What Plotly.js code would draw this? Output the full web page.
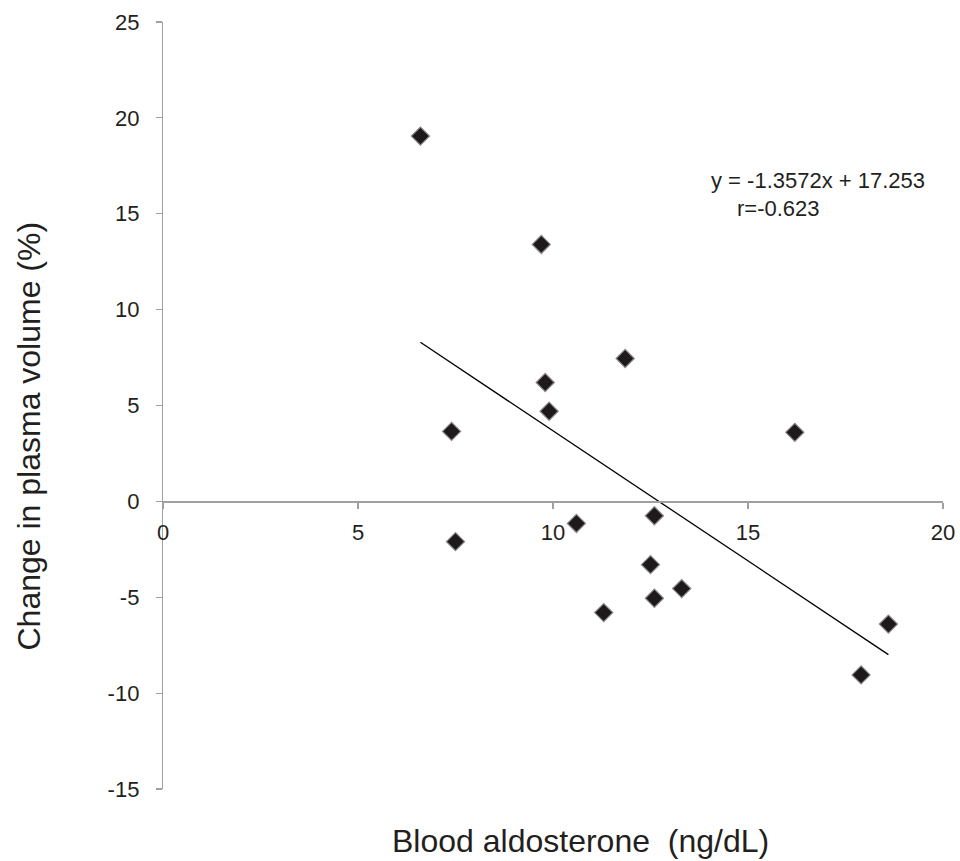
<!DOCTYPE html>
<html>
<head>
<meta charset="utf-8">
<script src="https://cdn.plot.ly/plotly-3.0.1.min.js"></script>
<style>html,body{margin:0;padding:0;background:#fff;}#chart{width:960px;height:861px;}</style>
</head>
<body>
<div id="chart"></div>
<script>
// Data
const aldosterone = [6.6, 9.7, 11.85, 9.8, 9.9, 7.4, 16.2, 7.5, 10.6, 12.6, 12.5, 12.6, 13.3, 11.3, 18.6, 17.9];
const plasmaChange = [19.05, 13.4, 7.45, 6.2, 4.7, 3.65, 3.6, -2.1, -1.15, -0.75, -3.3, -5.05, -4.55, -5.8, -6.4, -9.05];
const fitSlope = -1.3572;
const fitIntercept = 17.253;
const fitX = [6.6, 18.6];
const fitY = fitX.map(x => fitSlope * x + fitIntercept);
const xTicks = [0, 5, 10, 15, 20];
const yTicks = [-15, -10, -5, 0, 5, 10, 15, 20, 25];
const equationText = 'y = -1.3572x + 17.253';
const rText = 'r=-0.623';
const xTitle = 'Blood aldosterone  (ng/dL)';
const yTitle = 'Change in plasma volume (%)';

const font = 'Liberation Sans, Arial, sans-serif';
const textColor = '#231f20';
const axisColor = '#a0a0a0';

const traces = [
  {
    x: fitX, y: fitY, type: 'scatter', mode: 'lines',
    line: {color: '#000000', width: 1.3},
    hoverinfo: 'skip', showlegend: false
  },
  {
    x: aldosterone, y: plasmaChange, type: 'scatter', mode: 'markers',
    marker: {symbol: 'diamond', size: 14, color: '#1e1a1b', line: {color: '#8a8a8a', width: 1.2}},
    showlegend: false
  }
];

const layout = {
  width: 960, height: 861,
  margin: {l: 163, r: 17, t: 22, b: 72},
  paper_bgcolor: '#ffffff', plot_bgcolor: '#ffffff',
  showlegend: false,
  xaxis: {
    range: [0, 20], tickvals: xTicks, ticktext: xTicks.map(String),
    showgrid: false, zeroline: false,
    showline: true, linecolor: axisColor, linewidth: 1.2,
    ticks: 'outside', ticklen: 6, tickcolor: axisColor, tickwidth: 1.2,
    anchor: 'free', position: 0.375,
    ticklabelstandoff: 5,
    tickfont: {family: font, size: 22, color: textColor}
  },
  yaxis: {
    range: [-15, 25], tickvals: yTicks, ticktext: yTicks.map(String),
    showgrid: false, zeroline: false,
    showline: true, linecolor: axisColor, linewidth: 1.2,
    ticks: 'outside', ticklen: 6, tickcolor: axisColor, tickwidth: 1.2,
    ticklabelstandoff: 12,
    tickfont: {family: font, size: 22, color: textColor}
  },
  annotations: [
    {xref: 'x', yref: 'y', x: 14.0, y: 16.76, text: equationText,
     showarrow: false, xanchor: 'left', yanchor: 'middle',
     font: {family: font, size: 22, color: textColor}},
    {xref: 'x', yref: 'y', x: 14.67, y: 15.3, text: rText,
     showarrow: false, xanchor: 'left', yanchor: 'middle',
     font: {family: font, size: 22, color: textColor}},
    {xref: 'paper', yref: 'paper', x: (580 - 163) / (943 - 163), y: -(841 - 789) / (789 - 22), text: xTitle,
     showarrow: false, xanchor: 'center', yanchor: 'middle',
     font: {family: font, size: 32, color: textColor}},
    {xref: 'paper', yref: 'paper', x: 0, y: 0.5, text: yTitle, textangle: -90,
     showarrow: false, xanchor: 'center', yanchor: 'middle', xshift: -135, yshift: -31,
     font: {family: font, size: 32, color: textColor}}
  ]
};
Plotly.newPlot('chart', traces, layout, {displayModeBar: false, staticPlot: true});
</script>
</body>
</html>
